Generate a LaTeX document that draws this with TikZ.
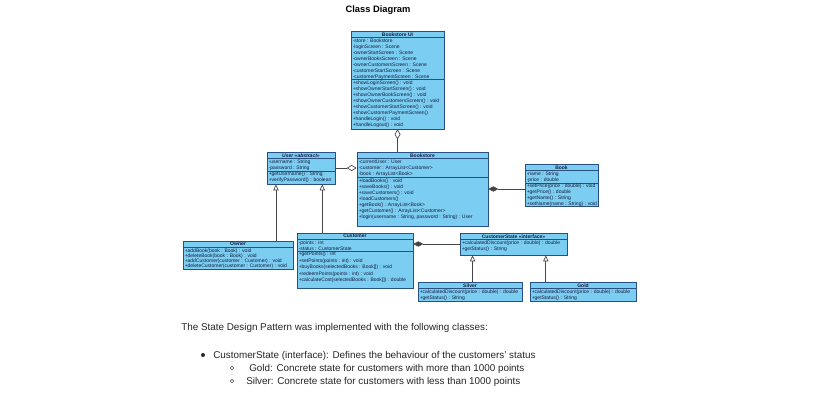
\documentclass[tikz,border=0pt]{standalone}
\usepackage{fontspec}
\setmainfont{Liberation Sans}
\usetikzlibrary{arrows.meta,fit,calc}
\definecolor{umlfill}{RGB}{124,205,242}
\definecolor{umlline}{RGB}{40,80,130}
\definecolor{umltext}{RGB}{20,30,60}
\definecolor{connc}{RGB}{70,70,70}
\tikzset{
  classbox/.style={draw=umlline, fill=umlfill, line width=0.5pt, inner sep=0pt},
  sepline/.style={draw=umlline, line width=0.4pt},
  hdr/.style={font=\fontsize{3.75}{4.5}\selectfont\bfseries, text=umltext, inner sep=0pt},
  memb/.style={font=\fontsize{3.75}{4.5}\selectfont, text=umltext, inner sep=0pt, anchor=north west, align=left},
  conn/.style={draw=connc, line width=0.5pt},
  gen/.style={conn, -{Triangle[open,length=4.5pt,width=4pt]}},
  agg/.style={conn, -{Diamond[open,length=7.5pt,width=4.5pt]}},
  comp/.style={conn, {Diamond[length=7.5pt,width=4pt]}-},
  body/.style={font=\fontsize{7.4}{9}\selectfont, text=black!85, inner sep=0pt, anchor=base west},
  titletext/.style={font=\fontsize{7}{9}\selectfont\bfseries, text=black, inner sep=0pt},
  fulldot/.style={circle, fill=black!85, inner sep=0pt, minimum size=3pt},
  opendot/.style={circle, draw=black!70, line width=0.35pt, inner sep=0pt, minimum size=2.6pt}
}
\newcommand\umlclass[8]{%
  \coordinate (#1-a) at (#2,#3);
  \coordinate (#1-b) at (#4,#5);
  \node[classbox, fit=(#1-a)(#1-b)] (#1) {};
  \draw[sepline] (#2,#6) -- (#4,#6);
  \draw[sepline] (#2,#7) -- (#4,#7);
  \node[hdr] (#1-h) at ({(#2+#4)/2},{(#3+#6)/2}) {#8};
}
\begin{document}
\begin{tikzpicture}[x=0.75pt,y=-0.75pt]
\fill[white] (0,0) rectangle (815,400);
\useasboundingbox (0,0) rectangle (815,400);

\node[titletext] (title) at (378,10) {Class Diagram};

% Bookstore UI
\umlclass{bui}{351}{31}{444}{129}{37.5}{79.5}{Bookstore UI}
\node[memb] (bui-at) at (352.5,38.3) {-store : Bookstore\\-loginScreen : Scene\\-ownerStartScreen : Scene\\-ownerBooksScreen : Scene\\-ownerCustomersScreen : Scene\\-customerStartScreen : Scene\\-customerPaymentScreen : Scene};
\node[memb] (bui-op) at (352.5,80.5) {+showLoginScreen() : void\\+showOwnerStartScreen() : void\\+showOwnerBookScreen() : void\\+showOwnerCustomersScreen() : void\\+showCustomerStartScreen() : void\\+showCustomerPaymentScreen()\\+handleLogin() : void\\+handleLogout() : void};

% User
\umlclass{user}{267}{152}{335}{184}{158.5}{171}{\itshape User «abstract»}
\node[memb] (user-at) at (268.5,159.3) {-username : String\\-password : String};
\node[memb] (user-op) at (268.5,171.8) {+getUsername() : String\\+verifyPassword() : boolean};

% Bookstore
\umlclass{bs}{357}{152}{488}{226}{158.5}{177}{Bookstore}
\node[memb] (bs-at) at (358.5,159.5) {-currentUser : User\\-customer : ArrayList<Customer>\\-book : ArrayList<Book>};
\node[memb] (bs-op) at (358.5,178.3) {+loadBooks() : void\\+saveBooks() : void\\+saveCustomers() : void\\+loadCustomers()\\+getBook() : ArrayList<Book>\\+getCustomer() : ArrayList<Customer>\\+login(username : String, password : String) : User};

% Book
\umlclass{book}{525}{164}{598}{206}{170.5}{183}{Book}
\node[memb] (book-at) at (526.5,171.3) {-name : String\\-price : double};
\node[memb] (book-op) at (526.5,183.8) {+setPrice(price : double) : void\\+getPrice() : double\\+getName() : String\\+setName(name : String) : void};

% Owner
\umlclass{owner}{183}{241}{293}{269}{247.5}{247.5}{Owner}
\node[memb, font=\fontsize{3.75}{3.9}\selectfont] (owner-op) at (184.5,248.5) {+addBook(book : Book) : void\\+deleteBook(book : Book) : void\\+addCustomer(customer : Customer) : void\\+deleteCustomer(customer : Customer) : void};

% Customer
\umlclass{cust}{297}{233}{413}{288}{239.5}{251}{Customer}
\node[memb] (cust-at) at (298.5,240.3) {-points : int\\-status : CustomerState};
\node[memb, font=\fontsize{3.75}{4.8}\selectfont] (cust-op) at (298.5,252) {+getPoints() : int\\+setPoints(points : int) : void\\+buyBooks(selectedBooks : Book[]) : void\\+redeemPoints(points : int) : void\\+calculateCost(selectedBooks : Book[]) : double};

% CustomerState
\umlclass{cs}{460}{233}{567}{255}{239.5}{239.5}{CustomerState «interface»}
\node[memb] (cs-op) at (461.5,240.5) {+calculatedDiscount(price : double) : double\\+getStatus() : String};

% Silver
\umlclass{silver}{418}{282}{522}{301}{288.5}{288.5}{Silver}
\node[memb] (silver-op) at (419.5,289.5) {+calculatedDiscount(price : double) : double\\+getStatus() : String};

% Gold
\umlclass{gold}{530}{282}{636}{301}{288.5}{288.5}{Gold}
\node[memb] (gold-op) at (531.5,289.5) {+calculatedDiscount(price : double) : double\\+getStatus() : String};

% connectors
\draw[agg] (bs.north -| bui.south) -- (bui.south);
\draw[agg] (user.east) -- (user.east -| bs.west);
\draw[comp] (bs.east) -- (bs.east -| book.west);
\draw[comp] (cs.west -| cust.east) -- (cs.west);

\coordinate (ug1) at ($(user.south west)!0.135!(user.south east)$);
\coordinate (ug2) at ($(user.south west)!0.81!(user.south east)$);
\draw[gen] (owner.north -| ug1) -- (ug1);
\draw[gen] (cust.north -| ug2) -- (ug2);
\coordinate (cg1) at ($(cs.south west)!0.12!(cs.south east)$);
\coordinate (cg2) at ($(cs.south west)!0.80!(cs.south east)$);
\draw[gen] (silver.north -| cg1) -- (cg1);
\draw[gen] (gold.north -| cg2) -- (cg2);

% text below
\node[body] (intro) at (181,330.5) {The State Design Pattern was implemented with the following classes:};
\node[fulldot] (b1) at (203,355) {};
\node[body] (l1) at (213,358.5) {CustomerState (interface): Defines the behaviour of the customers' status};
\node[opendot] (b2) at (232,368) {};
\node[body] (l2) at (249,371.5) {Gold: Concrete state for customers with more than 1000 points};
\node[opendot] (b3) at (232,381) {};
\node[body] (l3) at (246,384.5) {Silver: Concrete state for customers with less than 1000 points};
\end{tikzpicture}
\end{document}
